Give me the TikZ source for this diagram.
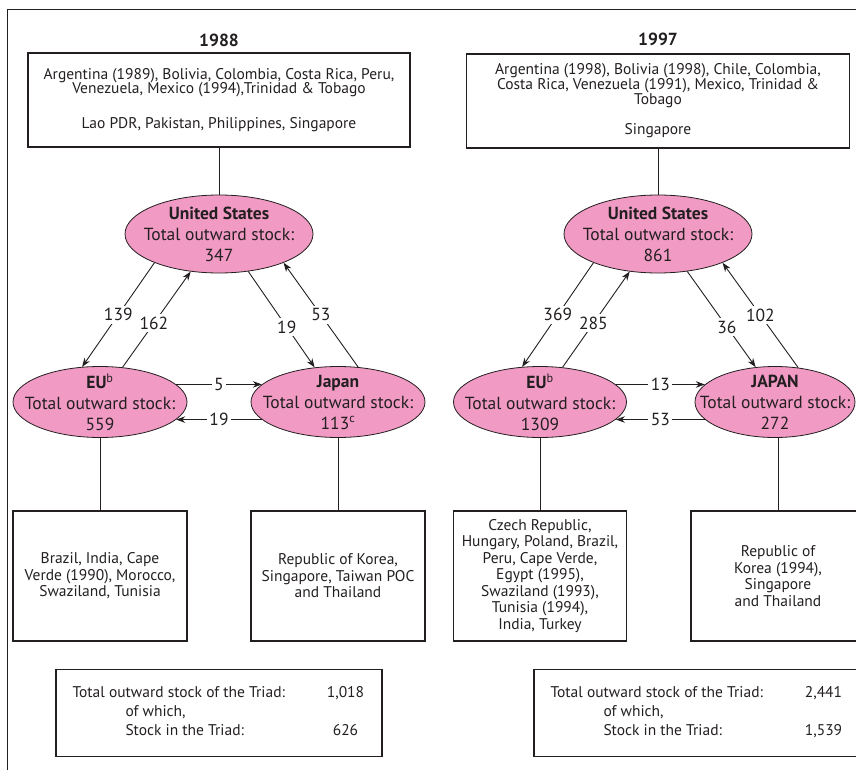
\documentclass[tikz,border=0pt]{standalone}
\usepackage{fontspec}
\setmainfont{PT Sans}
\usepackage{tikz}
\usetikzlibrary{arrows.meta,shapes,positioning}
\usepackage{xcolor}
\definecolor{triadpink}{RGB}{240,154,196}
\definecolor{inkgray}{RGB}{35,31,32}
\tikzstyle{country} = [rectangle, draw=inkgray, line width=1.1pt, align=center, inner sep=0pt, font=\fontsize{15.5}{16.5}\selectfont]
\tikzstyle{hub} = [ellipse, draw=inkgray, fill=triadpink, line width=0.8pt, inner sep=0pt, minimum width=188pt, minimum height=78pt]
\tikzstyle{hubtext} = [align=center, inner sep=0pt, font=\fontsize{17.5}{21}\selectfont]
\tikzstyle{link} = [draw=inkgray, line width=0.9pt]
\tikzstyle{arrow} = [link, -{Stealth[length=9pt,width=6.5pt]}]
\tikzstyle{flow} = [fill=white, inner sep=2.5pt, font=\fontsize{17.5}{17.5}\selectfont]
\tikzstyle{summary} = [rectangle, draw=inkgray, line width=1.8pt, inner sep=0pt, minimum width=326pt, minimum height=87pt, font=\fontsize{15.5}{19}\selectfont]
\tikzstyle{year} = [font=\fontsize{17.5}{17.5}\selectfont\bfseries]

\begin{document}
\begin{tikzpicture}[x=1pt, y=-1pt, text=inkgray]
\useasboundingbox (0,0) rectangle (856,770);
\clip (0,0) rectangle (856,770);
\draw[inkgray, line width=1pt] (7,770) -- (7,10) -- (856,10);

% 1988
\node[year] (yearA) at (219,40) {1988};
\node[country, minimum width=382pt, minimum height=94pt, font=\fontsize{15.5}{14.5}\selectfont] (topA) at (219,100)
  {Argentina (1989), Bolivia, Colombia, Costa Rica, Peru,\\Venezuela, Mexico (1994),Trinidad \& Tobago\\[20pt]Lao PDR, Pakistan, Philippines, Singapore};
\node[hub] (usA) at (219,234) {};
\node[hubtext] (usAt) at (usA) {\textbf{United States}\\Total outward stock:\\347};
\node[hub, minimum width=174pt, minimum height=71pt] (euA) at (100,402) {};
\node[hubtext] (euAt) at (euA) {\textbf{EU}\textsuperscript{b}\\Total outward stock:\\559};
\node[hub, minimum width=174pt, minimum height=71pt] (jpA) at (338,402) {};
\node[hubtext] (jpAt) at (jpA) {\textbf{Japan}\\Total outward stock:\\113\textsuperscript{c}};
\node[country, minimum width=174pt, minimum height=130pt] (ecA) at (100,576) {Brazil, India, Cape\\Verde (1990), Morocco,\\Swaziland, Tunisia};
\node[country, minimum width=174pt, minimum height=130pt] (acA) at (338,576) {Republic of Korea,\\Singapore, Taiwan POC\\and Thailand};
\node[summary] (sumA) at (219,713) {\begin{tabular}{@{}p{253pt}@{}l@{}}
  Total outward stock of the Triad: & \makebox[40pt]{1,018}\\
  \hspace{53pt}of which, & \\
  \hspace{53pt}Stock in the Triad: & \makebox[40pt]{626}
\end{tabular}};

\draw[link] (topA.south) -- (usA.north);
\draw[arrow] (usA.204) -- node[flow] {139} (euA.117);
\draw[arrow] (euA.57) -- node[flow, pos=0.46] {162} (usA.233);
\draw[arrow] (usA.308) -- node[flow, pos=0.58] {19} (jpA.124);
\draw[arrow] (jpA.60) -- node[flow] {53} (usA.336);
\draw[arrow] (euA.13) -- node[flow] {5} (jpA.167);
\draw[arrow] (jpA.193) -- node[flow] {19} (euA.347);
\draw[link] (euA.south) -- (ecA.north);
\draw[link] (jpA.south) -- (acA.north);

% 1997
\node[year] (yearB) at (658,39) {1997};
\node[country, minimum width=383pt, minimum height=94pt, font=\fontsize{15.5}{15}\selectfont] (topB) at (658,101)
  {Argentina (1998), Bolivia (1998), Chile, Colombia,\\Costa Rica, Venezuela (1991), Mexico, Trinidad \&\\Tobago\\[15pt]Singapore};
\node[hub] (usB) at (658,234) {};
\node[hubtext] (usBt) at (usB) {\textbf{United States}\\Total outward stock:\\861};
\node[hub, minimum width=173pt, minimum height=71pt] (euB) at (540,402) {};
\node[hubtext] (euBt) at (euB) {\textbf{EU}\textsuperscript{b}\\Total outward stock:\\1309};
\node[hub, minimum width=160pt, minimum height=71pt] (jpB) at (775,402) {};
\node[hubtext] (jpBt) at (jpB) {\textbf{JAPAN}\\Total outward stock:\\272};
\node[country, minimum width=173pt, minimum height=130pt] (ecB) at (540,576) {Czech Republic,\\Hungary, Poland, Brazil,\\Peru, Cape Verde,\\Egypt (1995),\\Swaziland (1993),\\Tunisia (1994),\\India, Turkey};
\node[country, minimum width=174pt, minimum height=130pt] (acB) at (778,576) {Republic of\\Korea (1994),\\Singapore\\and Thailand};
\node[summary] (sumB) at (697,713) {\begin{tabular}{@{}p{253pt}@{}l@{}}
  Total outward stock of the Triad: & \makebox[40pt]{2,441}\\
  \hspace{53pt}of which, & \\
  \hspace{53pt}Stock in the Triad: & \makebox[40pt]{1,539}
\end{tabular}};

\draw[link] (topB.south) -- (usB.north);
\draw[arrow] (usB.204) -- node[flow] {369} (euB.117);
\draw[arrow] (euB.57) -- node[flow, pos=0.46] {285} (usB.233);
\draw[arrow] (usB.308) -- node[flow, pos=0.58] {36} (jpB.119);
\draw[arrow] (jpB.56) -- node[flow] {102} (usB.336);
\draw[arrow] (euB.13) -- node[flow] {13} (jpB.166);
\draw[arrow] (jpB.194) -- node[flow] {53} (euB.347);
\draw[link] (euB.south) -- (ecB.north);
\draw[link] (acB.north) -- (acB.north |- jpB.south);
\end{tikzpicture}
\end{document}
